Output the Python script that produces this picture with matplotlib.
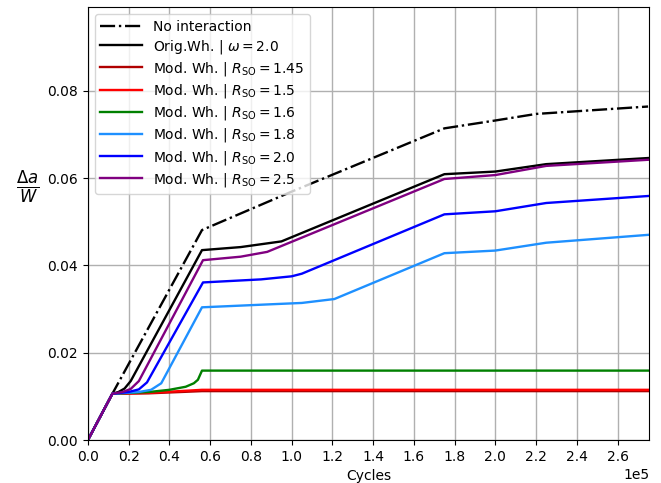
import matplotlib
matplotlib.use("Agg")
import matplotlib.pyplot as plt
from matplotlib.ticker import MultipleLocator

# crack growth curves, cycles in units of 1e5
x_noint = [0, 0.12, 0.56, 1.0, 1.75, 2.0, 2.2, 2.75]
y_noint = [0, 0.0106, 0.0481, 0.0569, 0.0714, 0.0732, 0.0747, 0.0764]

x_orig = [0, 0.12, 0.15, 0.18, 0.21, 0.56, 0.75, 0.95, 1.75, 2.0, 2.25, 2.75]
y_orig = [0, 0.0106, 0.0110, 0.0118, 0.0135, 0.0435, 0.0442, 0.0455, 0.0609, 0.0615, 0.0632, 0.0646]

x_r145 = [0, 0.12, 0.3, 0.56, 2.75]
y_r145 = [0, 0.0106, 0.0107, 0.0112, 0.0112]

x_r150 = [0, 0.12, 0.3, 0.56, 2.75]
y_r150 = [0, 0.0106, 0.0108, 0.0115, 0.0115]

x_r160 = [0, 0.12, 0.3, 0.4, 0.48, 0.52, 0.54, 0.56, 2.75]
y_r160 = [0, 0.0106, 0.0110, 0.0115, 0.0122, 0.0130, 0.0138, 0.0159, 0.0159]

x_r180 = [0, 0.12, 0.25, 0.31, 0.36, 0.56, 0.9, 1.05, 1.21, 1.75, 2.0, 2.25, 2.75]
y_r180 = [0, 0.0106, 0.0110, 0.0115, 0.0130, 0.0304, 0.0311, 0.0314, 0.0323, 0.0428, 0.0434, 0.0452, 0.0470]

x_r200 = [0, 0.12, 0.2, 0.25, 0.29, 0.565, 0.85, 1.0, 1.05, 1.75, 2.0, 2.25, 2.75]
y_r200 = [0, 0.0106, 0.0110, 0.0116, 0.0132, 0.0361, 0.0368, 0.0375, 0.0381, 0.0517, 0.0524, 0.0543, 0.0559]

x_r250 = [0, 0.12, 0.17, 0.21, 0.25, 0.565, 0.75, 0.88, 1.75, 2.0, 2.25, 2.75]
y_r250 = [0, 0.0106, 0.0110, 0.0117, 0.0135, 0.0412, 0.0420, 0.0431, 0.0598, 0.0607, 0.0628, 0.0642]

series = [
    (x_noint, y_noint, "No interaction", "black", "-."),
    (x_orig, y_orig, r"Orig.Wh. | $\omega = 2.0$", "black", "-"),
    (x_r145, y_r145, r"Mod. Wh. | $R_{\mathrm{SO}} = 1.45$", "#b00000", "-"),
    (x_r150, y_r150, r"Mod. Wh. | $R_{\mathrm{SO}} = 1.5$", "red", "-"),
    (x_r160, y_r160, r"Mod. Wh. | $R_{\mathrm{SO}} = 1.6$", "green", "-"),
    (x_r180, y_r180, r"Mod. Wh. | $R_{\mathrm{SO}} = 1.8$", "dodgerblue", "-"),
    (x_r200, y_r200, r"Mod. Wh. | $R_{\mathrm{SO}} = 2.0$", "blue", "-"),
    (x_r250, y_r250, r"Mod. Wh. | $R_{\mathrm{SO}} = 2.5$", "purple", "-"),
]

fig = plt.figure(figsize=(6.61, 4.83), dpi=100)
ax = fig.add_axes([0.133, 0.089, 0.849, 0.8965])

for xs, ys, label, color, ls in series:
    ax.plot([v * 1e5 for v in xs], ys, color=color, linestyle=ls, linewidth=1.7, label=label)

ax.set_xlim(0, 2.755e5)
ax.set_ylim(0, 0.0992)
ax.xaxis.set_major_locator(MultipleLocator(20000))
ax.yaxis.set_major_locator(MultipleLocator(0.02))
ax.ticklabel_format(axis="x", style="sci", scilimits=(0, 0))
ax.grid(True, color="#b0b0b0", linewidth=1)

ax.set_xlabel("Cycles")
ax.set_ylabel(r"$\frac{\Delta a}{W}$", fontsize=17, rotation=0)
ax.yaxis.set_label_coords(-0.108, 0.54)
ax.legend(loc="upper left", fontsize=10, labelspacing=0.3, handlelength=3.0,
          borderaxespad=0.5)

fig.savefig("out.png", dpi=100)
